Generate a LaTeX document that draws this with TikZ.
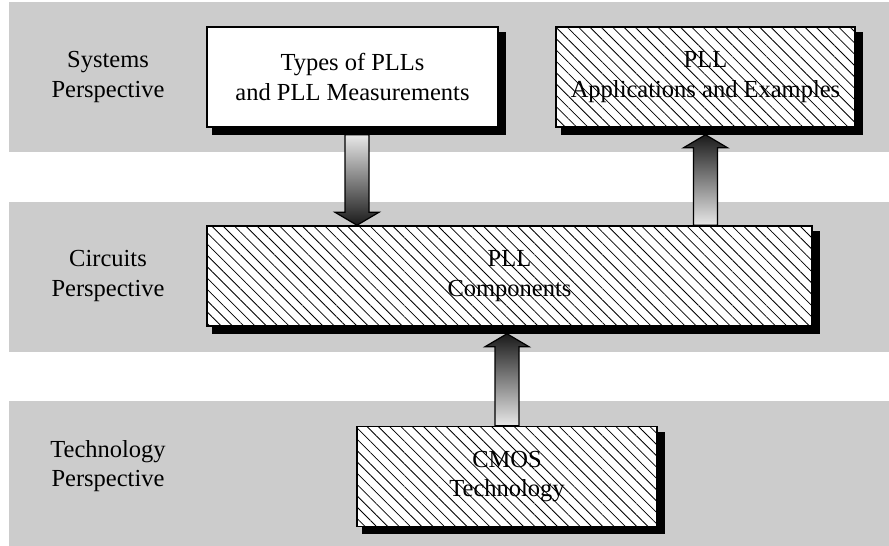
\documentclass[tikz,border=0pt]{standalone}
\usepackage{fontspec}
\setmainfont{Liberation Serif}
\usetikzlibrary{calc,patterns.meta}
\pgfdeclarelayer{bandlayer}
\pgfdeclarelayer{shadowlayer}
\pgfsetlayers{bandlayer,shadowlayer,main}
\definecolor{bandgray}{HTML}{CCCCCC}
\definecolor{arrowlight}{HTML}{E8E8E8}
\definecolor{arrowdark}{HTML}{1A1A1A}
\tikzset{
  bandfill/.style={fill=bandgray,draw=none},
  txt/.style={align=center,font=\fontsize{24.5}{29.5}\selectfont,inner sep=0pt},
  boxbase/.style={txt,draw=black,line width=1.5pt,minimum height=100pt},
  plainbox/.style={boxbase,fill=white},
  hatchbox/.style={boxbase,fill=white,
    postaction={pattern={Lines[angle=-45,distance=8pt,line width=0.8pt]}}},
  shadowfill/.style={fill=black,draw=none},
  fatline/.style={draw=black,line width=1.2pt,line join=miter},
  downshade/.style={top color=arrowlight,bottom color=arrowdark},
  upshade/.style={top color=arrowdark,bottom color=arrowlight}
}
\newcommand\boxshadow[1]{%
  \begin{pgfonlayer}{shadowlayer}
    \fill[shadowfill] ($(#1.south west)+(6,7)$) rectangle ($(#1.north east)+(7,6)$);
  \end{pgfonlayer}}
\newcommand\fatarrow[4]{%
  \coordinate (#1h) at ($(#3)!13pt!(#2)$);
  \draw[fatline,#4] ($(#2)!12pt!90:(#3)$) -- ($(#1h)!12pt!-90:(#2)$)
    -- ($(#1h)!22pt!-90:(#2)$) -- (#3) -- ($(#1h)!22pt!90:(#2)$)
    -- ($(#1h)!12pt!90:(#2)$) -- ($(#2)!12pt!-90:(#3)$) -- cycle;
}
\begin{document}
\begin{tikzpicture}[x=1pt,y=-1pt]
\useasboundingbox (0,0) rectangle (889,546);
% bands
\begin{pgfonlayer}{bandlayer}
\fill[bandfill] (9,2) rectangle (889,152);
\fill[bandfill] (9,202) rectangle (889,352);
\fill[bandfill] (9,401) rectangle (889,546);
\end{pgfonlayer}
% labels
\node[txt] (lsys) at (108,77) {Systems\\Perspective};
\node[txt] (lcir) at (108,276) {Circuits\\Perspective};
\node[txt] (ltec) at (108,466) {Technology\\Perspective};
% boxes
\node[plainbox,minimum width=291pt] (types) at (352.5,77) {Types of PLLs\\and PLL Measurements};
\node[hatchbox,minimum width=299pt] (apps) at (705.5,77) {PLL\\Applications and Examples};
\node[hatchbox,minimum width=605pt] (comps) at (509.5,276) {PLL\\Components};
\node[hatchbox,minimum width=300pt] (cmos) at (507,476.5) {CMOS\\Technology};
\boxshadow{types}
\boxshadow{apps}
\boxshadow{comps}
\boxshadow{cmos}
% arrows
\coordinate (s1) at ($(types.south)+(4.5,7)$);
\coordinate (t1) at (s1 |- comps.north);
\fatarrow{a1}{s1}{t1}{downshade}
\coordinate (s2) at (apps.south |- comps.north);
\coordinate (t2) at ($(apps.south)+(0,7)$);
\fatarrow{a2}{s2}{t2}{upshade}
\coordinate (s3) at (cmos.north);
\coordinate (t3) at ($(cmos.north |- comps.south)+(0,7)$);
\fatarrow{a3}{s3}{t3}{upshade}
\end{tikzpicture}
\end{document}
